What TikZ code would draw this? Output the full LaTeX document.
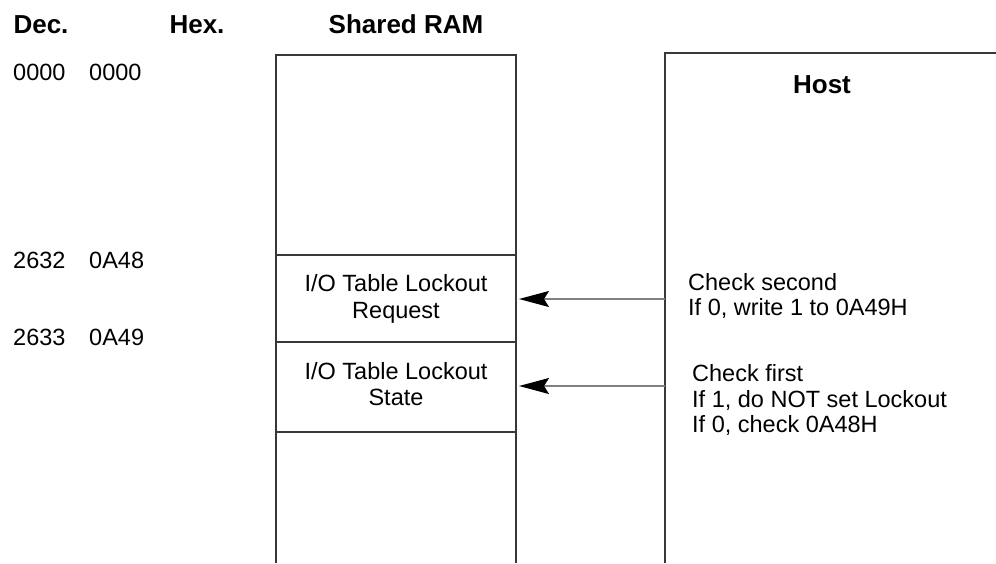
\documentclass[tikz,border=0pt]{standalone}
\usepackage{fontspec}
\setmainfont{Liberation Sans}
\usetikzlibrary{arrows.meta}
\begin{document}
\begin{tikzpicture}[x=1pt,y=-1pt,
  boxline/.style={draw=black!78,line width=1.3pt},
  conn/.style={draw=black!50,line width=1.6pt,-{Stealth[length=30pt,width=16pt,inset=5pt,fill=black,color=black]}},
  head/.style={anchor=base,inner sep=0pt,font=\fontsize{26}{30}\selectfont\bfseries},
  lbl/.style={anchor=base west,inner sep=0pt,font=\fontsize{23.5}{27}\selectfont},
  cell/.style={anchor=base,inner sep=0pt,font=\fontsize{23.5}{27}\selectfont}]
\useasboundingbox (0,0) rectangle (996,563);
% headings
\node[head] (dec) at (41,33) {Dec.};
\node[head] (hex) at (197,33) {Hex.};
\node[head] (sram) at (406,33) {Shared RAM};
% addresses
\node[lbl] (d0) at (13,80) {0000};
\node[lbl] (h0) at (89,80) {0000};
\node[lbl] (d1) at (13,268) {2632};
\node[lbl] (h1) at (89,268) {0A48};
\node[lbl] (d2) at (13,345) {2633};
\node[lbl] (h2) at (89,345) {0A49};
% shared RAM column
\draw[boxline] (276,563) -- (276,55) -- (516,55) -- (516,563);
\draw[boxline] (276,255) -- (516,255);
\draw[boxline] (276,342) -- (516,342);
\draw[boxline] (276,432) -- (516,432);
\node[cell] (req1) at (396,291) {I/O Table Lockout};
\node[cell] (req2) at (396,318) {Request};
\node[cell] (st1) at (396,379) {I/O Table Lockout};
\node[cell] (st2) at (396,405) {State};
% host column
\draw[boxline] (665,563) -- (665,53) -- (997,53);
\node[head] (host) at (822,93) {Host};
\node[lbl] (cs1) at (688,290) {Check second};
\node[lbl] (cs2) at (688,315) {If 0, write 1 to 0A49H};
\node[lbl] (cf1) at (692,381) {Check first};
\node[lbl] (cf2) at (692,407) {If 1, do NOT set Lockout};
\node[lbl] (cf3) at (692,432) {If 0, check 0A48H};
% connectors
\coordinate (hA) at (665,299);
\coordinate (rA) at (519,299);
\coordinate (hB) at (665,386);
\coordinate (rB) at (519,386);
\draw[conn] (hA) -- (rA);
\draw[conn] (hB) -- (rB);
\end{tikzpicture}
\end{document}
